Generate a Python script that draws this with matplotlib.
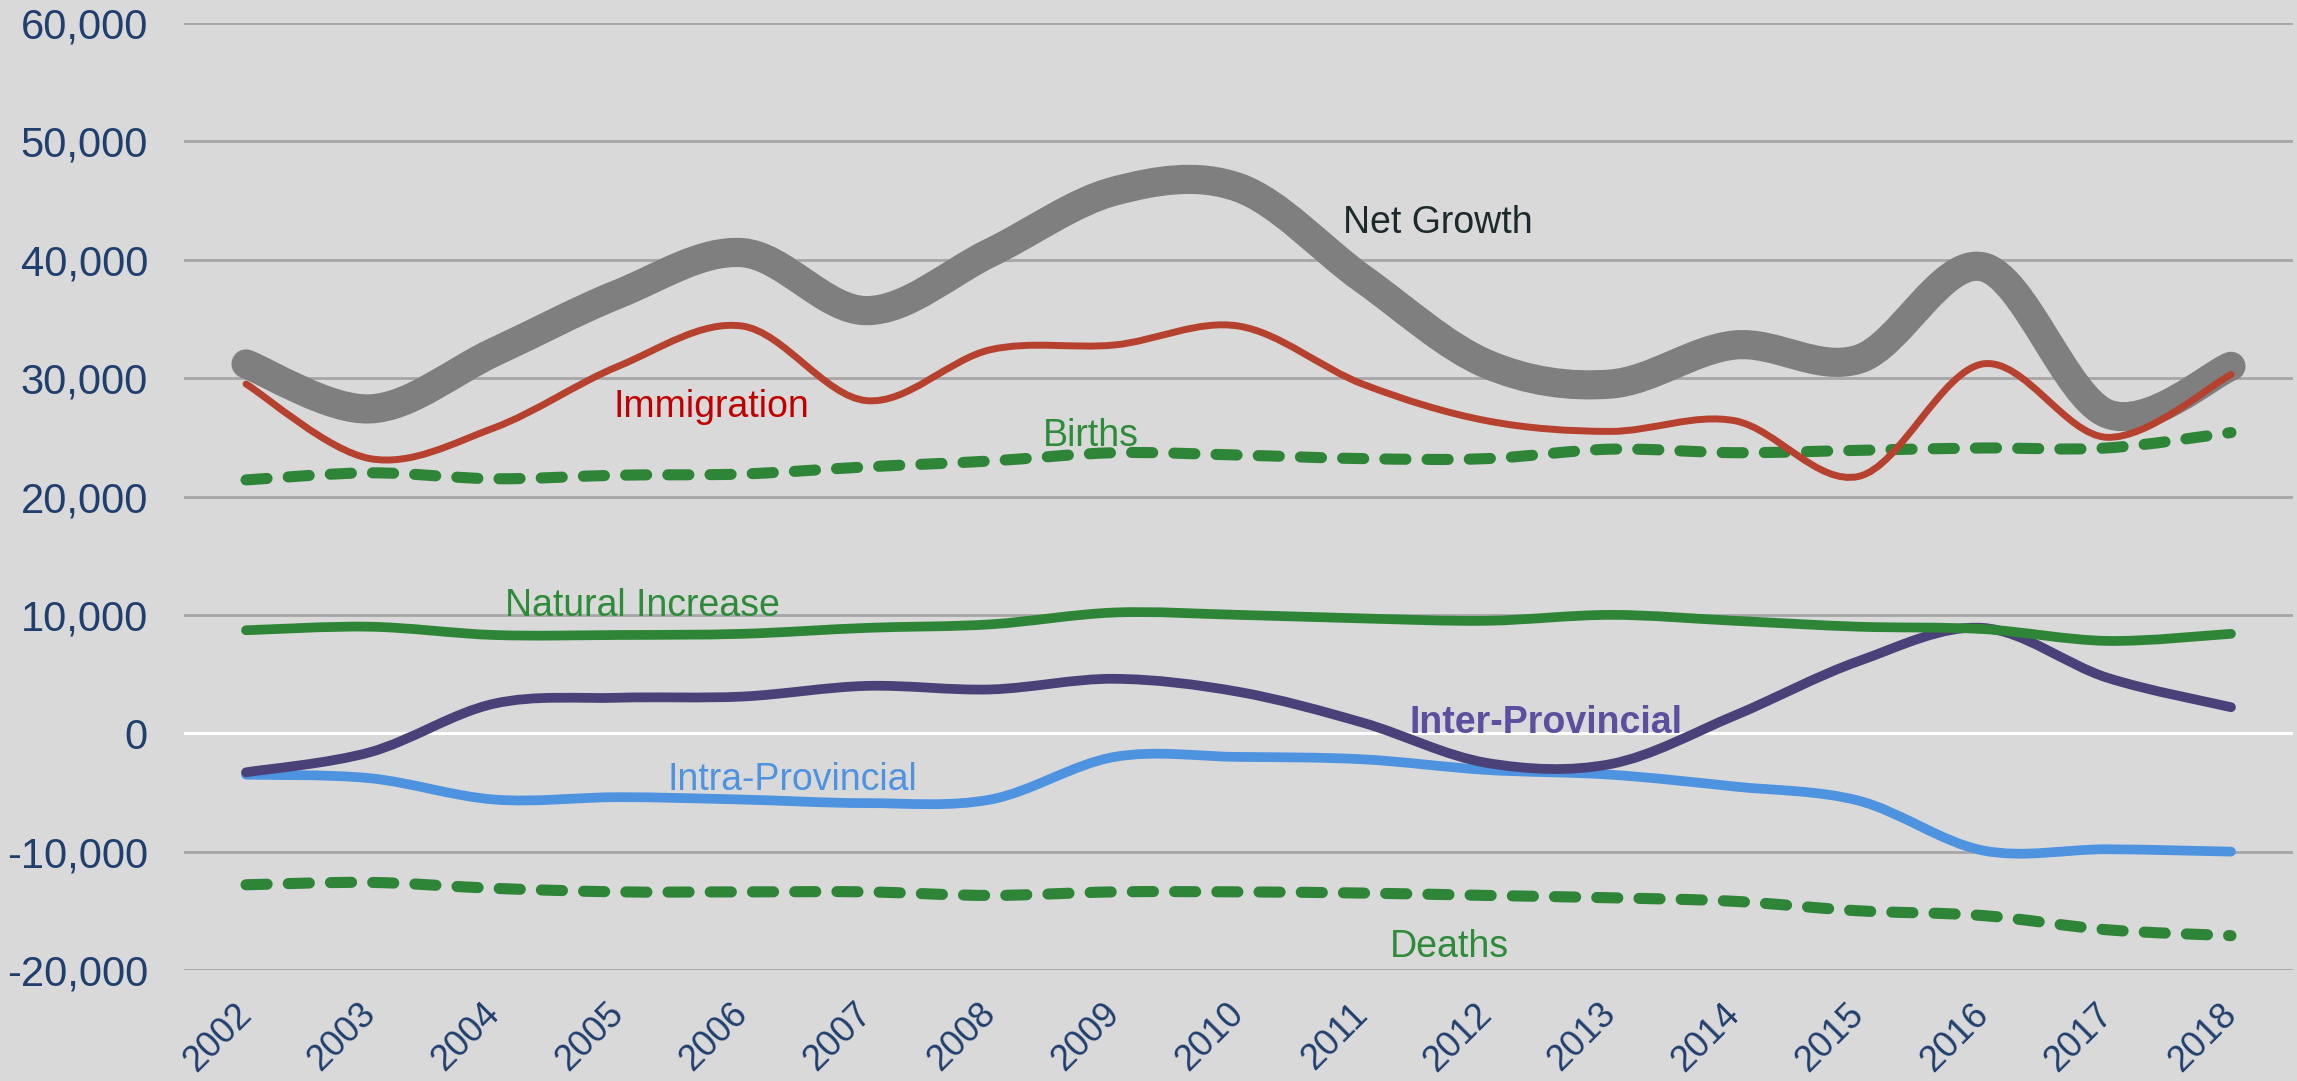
import numpy as np
import matplotlib
matplotlib.use("Agg")
import matplotlib.pyplot as plt
from matplotlib.path import Path
from matplotlib.patches import PathPatch
from matplotlib.ticker import FuncFormatter

years = [str(y) for y in range(2002, 2019)]

net_growth = [31200, 27400, 32200, 37100, 40600, 35700, 40600, 45800, 46100,
              38400, 31200, 29500, 32800, 31600, 39400, 27000, 31000]
immigration = [29500, 23200, 25800, 31000, 34400, 28100, 32400, 32800, 34400,
               29500, 26400, 25500, 26400, 21700, 31200, 25000, 30300]
births = [21400, 22000, 21500, 21800, 21900, 22500, 23000, 23700, 23500,
          23200, 23200, 24000, 23700, 23900, 24100, 24100, 25400]
natural_increase = [8700, 9000, 8300, 8300, 8400, 8900, 9200, 10200, 10000,
                    9700, 9500, 10000, 9500, 9000, 8800, 7800, 8400]
deaths = [-12800, -12600, -13100, -13400, -13400, -13400, -13700, -13400, -13400,
          -13500, -13700, -13900, -14200, -15000, -15400, -16600, -17100]
inter_provincial = [-3300, -1600, 2500, 3000, 3100, 4000, 3700, 4600, 3500,
                    900, -2500, -2600, 1500, 6100, 8900, 4700, 2200]
intra_provincial = [-3500, -3800, -5600, -5400, -5600, -5900, -5600, -2000, -2000,
                    -2200, -3100, -3500, -4500, -5700, -9900, -9800, -10000]

y_ticks = [-20000, -10000, 0, 10000, 20000, 30000, 40000, 50000, 60000]

BG = "#D9D9D9"
FONT = "Liberation Sans"


def smooth_path(yvals):
    """Excel-like smoothed line: cubic Bezier segments through data points."""
    pts = np.column_stack([np.arange(len(yvals)), yvals]).astype(float)
    n = len(pts)
    verts = [pts[0]]
    codes = [Path.MOVETO]
    for i in range(n - 1):
        p0 = pts[i - 1] if i > 0 else pts[i]
        p1 = pts[i]
        p2 = pts[i + 1]
        p3 = pts[i + 2] if i + 2 < n else pts[i + 1]
        c1 = p1 + (p2 - p0) / 6.0
        c2 = p2 - (p3 - p1) / 6.0
        verts += [c1, c2, p2]
        codes += [Path.CURVE4] * 3
    return Path(verts, codes)


fig = plt.figure(figsize=(22.97, 10.81), dpi=100, facecolor=BG)
ax = fig.add_axes([184 / 2297, 1 - 970 / 1081, 2109 / 2297, 947 / 1081])
ax.set_facecolor(BG)
for s in ax.spines.values():
    s.set_visible(False)

ax.set_xlim(-0.5, len(years) - 0.5)
ax.set_ylim(-20000, 60000)

# gridlines
for t in y_ticks:
    if t == 0:
        ax.axhline(t, color="white", lw=2.2, zorder=1)
    else:
        ax.axhline(t, color="#A6A6A6", lw=2.0, zorder=1)

series = [
    (net_growth, "#7F7F7F", 21, None, 2),
    (intra_provincial, "#4E93E0", 7, None, 3),
    (inter_provincial, "#4A4178", 7, None, 4),
    (deaths, "#2E8537", 8, (0, (1.9, 1.9)), 5),
    (births, "#2E8537", 8, (0, (1.9, 1.9)), 5),
    (natural_increase, "#2E8537", 7, None, 6),
    (immigration, "#B7412F", 5, None, 7),
]
for vals, col, lw, ls, z in series:
    patch = PathPatch(smooth_path(vals), fill=False, edgecolor=col, lw=lw,
                      capstyle="round", joinstyle="round", zorder=z)
    if ls is not None:
        patch.set_linestyle(ls)
        patch.set_capstyle("round")
    ax.add_patch(patch)

# ticks
ax.set_yticks(y_ticks)
ax.yaxis.set_major_formatter(FuncFormatter(lambda v, p: f"{int(v):,}"))
ax.tick_params(axis="y", length=0, pad=26, labelsize=30, labelcolor="#1F3F6F")
for lab in ax.get_yticklabels():
    lab.set_fontfamily(FONT)

ax.set_xticks(range(len(years)))
ax.set_xticklabels(years, rotation=45, ha="right", va="center",
                   rotation_mode="anchor", fontsize=26, color="#1F3F6F",
                   fontfamily=FONT)
ax.tick_params(axis="x", length=0, pad=28)

# inline labels
labels = [
    ("Net Growth", 8.84, 42300, "#1C2A2C", "normal", 27),
    ("Immigration", 2.96, 26700, "#C00000", "normal", 27),
    ("Births", 6.42, 24250, "#2E8B3A", "normal", 27),
    ("Natural Increase", 2.09, 9880, "#2E8B3A", "normal", 27),
    ("Inter-Provincial", 9.38, 20, "#5B4F9F", "bold", 27),
    ("Intra-Provincial", 3.40, -4800, "#4E93E0", "normal", 27),
    ("Deaths", 9.22, -18900, "#2E8B3A", "normal", 27),
]
for txt, x, y, col, wt, fs in labels:
    ax.text(x, y, txt, color=col, fontsize=fs, fontweight=wt, fontfamily=FONT,
            ha="left", va="baseline", zorder=10)

fig.savefig("out.png", dpi=100, facecolor=BG)
